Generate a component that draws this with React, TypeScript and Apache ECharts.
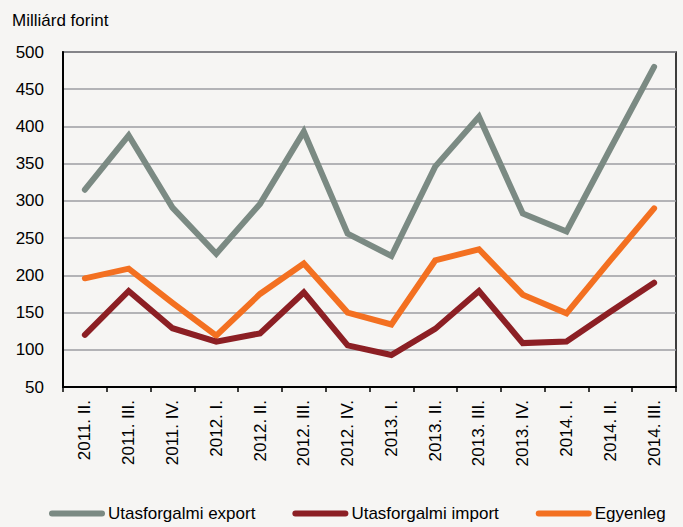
import React, { useEffect, useRef } from "react";
import * as echarts from "echarts";

const categories = [
  "2011. II.", "2011. III.", "2011. IV.", "2012. I.", "2012. II.", "2012. III.", "2012. IV.",
  "2013. I.", "2013. II.", "2013. III.", "2013. IV.", "2014. I.", "2014. II.", "2014. III.",
];
const exportValues = [315, 388, 291, 229, 296, 393, 256, 226, 346, 413, 283, 259, 370, 480];
const importValues = [120, 179, 129, 111, 122, 177, 106, 93, 128, 179, 109, 111, 151, 190];
const balanceValues = [196, 209, 163, 119, 175, 216, 150, 134, 220, 235, 174, 149, 220, 290];
const seriesNames = ["Utasforgalmi export", "Utasforgalmi import", "Egyenleg"];
const yAxisTitle = "Milliárd forint";

const FONT = "'Liberation Sans', Arial, sans-serif";
const FS = 17;
const colors = ["#7b8a83", "#8c1f24", "#f37021"];
const pill = "path://M3,0 H53 A3,3 0 0 1 53,6 H3 A3,3 0 0 1 3,0 Z";

export default function App() {
  const ref = useRef<HTMLDivElement>(null);
  useEffect(() => {
    document.body.style.margin = "0";
    const chart = echarts.init(ref.current!, null, { renderer: "svg" });
    const values = [exportValues, importValues, balanceValues];
    chart.setOption({
      animation: false,
      backgroundColor: "#f6f5f3",
      textStyle: { fontFamily: FONT },
      title: {
        text: yAxisTitle,
        left: 7,
        top: 7,
        textStyle: { fontFamily: FONT, fontSize: FS, fontWeight: "normal", color: "#000" },
      },
      legend: {
        left: 44,
        top: 500,
        itemWidth: 56,
        itemHeight: 6,
        itemGap: 37,
        textStyle: { fontFamily: FONT, fontSize: FS, color: "#000", padding: [0, 0, 0, -2] },
        data: seriesNames.map((n, i) => ({ name: n, icon: pill, itemStyle: { color: colors[i] } })),
      },
      grid: {
        left: 63,
        right: 7,
        top: 52,
        bottom: 140,
        show: true,
        borderColor: "#000",
        borderWidth: 1.5,
        backgroundColor: "transparent",
      },
      xAxis: {
        type: "category",
        data: categories,
        boundaryGap: true,
        axisLine: { lineStyle: { color: "#000", width: 2 } },
        axisTick: { show: true, length: 5, lineStyle: { color: "#000", width: 1.5 } },
        axisLabel: { rotate: 90, margin: 13, fontFamily: FONT, fontSize: FS, color: "#000", interval: 0 },
        splitLine: { show: false },
      },
      yAxis: {
        type: "value",
        min: 50,
        max: 500,
        interval: 50,
        axisLine: { show: true, lineStyle: { color: "#000", width: 2 } },
        axisTick: { show: false },
        axisLabel: { margin: 19, fontFamily: FONT, fontSize: FS, color: "#000" },
        splitLine: { lineStyle: { color: "#9c9da2", width: 1.5 } },
      },
      series: seriesNames.map((n, i) => ({
        name: n,
        type: "line",
        data: values[i],
        symbol: "none",
        lineStyle: { color: colors[i], width: 6, cap: "round", join: "miter" },
        itemStyle: { color: colors[i] },
        z: 3 - i,
      })),
    });
    return () => chart.dispose();
  }, []);
  return <div ref={ref} style={{ width: 683, height: 527 }} />;
}
